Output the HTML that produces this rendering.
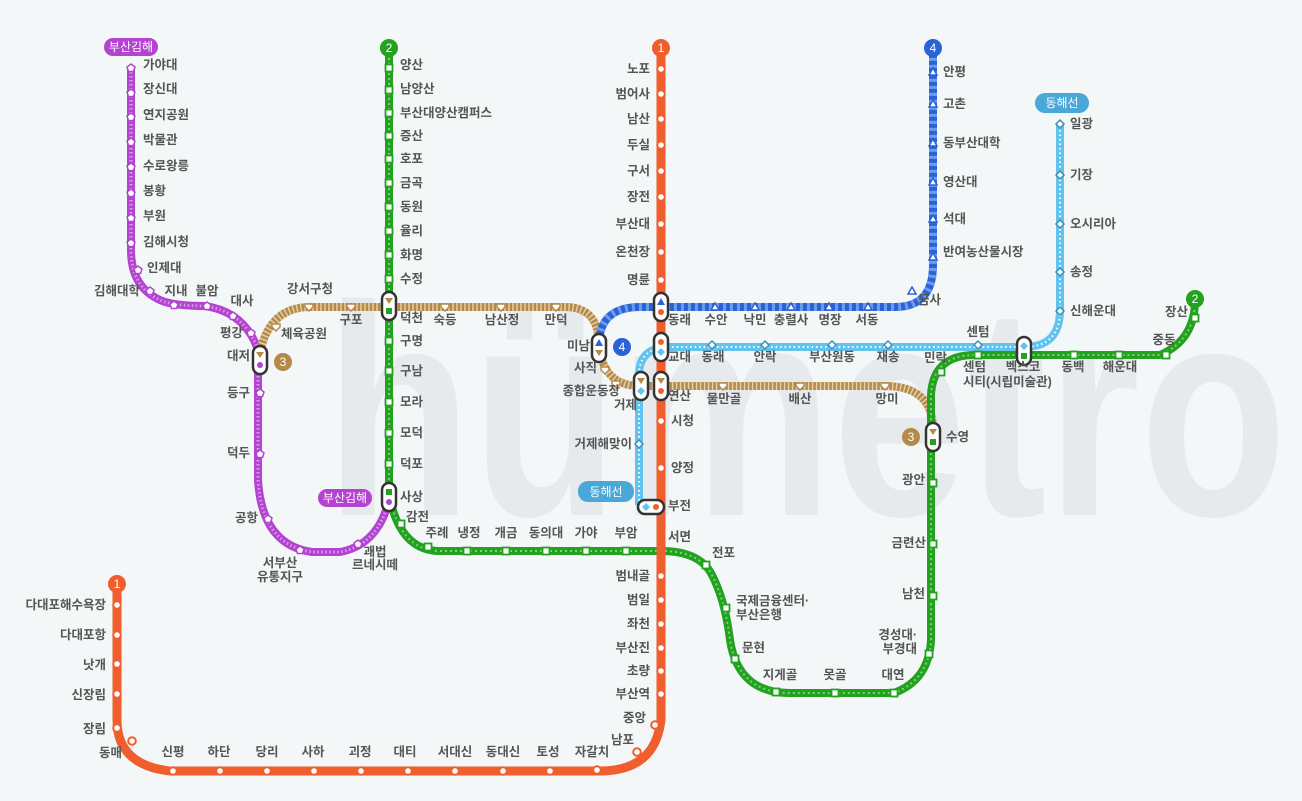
<!DOCTYPE html>
<html><head><meta charset="utf-8"><style>
html,body{margin:0;padding:0;background:#f4f7f8;}
svg{display:block}
text{font-family:"Liberation Sans","Noto Sans CJK KR",sans-serif;font-size:12.5px;fill:#555;font-weight:600}
.r{text-anchor:end}.m{text-anchor:middle}
.wm{font-family:"Liberation Sans",sans-serif;font-weight:700;font-size:300px;fill:#e6eaec}
.b{fill:#fff;font-size:12px;text-anchor:middle;font-weight:400}
</style></head><body>
<svg id="s" width="1302" height="801" viewBox="0 0 1302 801" xmlns="http://www.w3.org/2000/svg">
<text class="wm" x="325" y="515" textLength="962" lengthAdjust="spacingAndGlyphs">hümetro</text>
<g fill="none" stroke-linejoin="round">
<path d="M131,68 V250 Q131,290 165,302 Q180,306 205,306 Q245,312 258,350 V480 Q262,545 312,552 H340 Q378,545 389,500" stroke="#b343d0" stroke-width="8"/>
<path d="M131,68 V250 Q131,290 165,302 Q180,306 205,306 Q245,312 258,350 V480 Q262,545 312,552 H340 Q378,545 389,500" stroke="#d89be8" stroke-width="3" stroke-dasharray="1.5 2.5"/>
<path d="M260,352 Q270,307 310,307 H565 Q599,307 599,345 Q603,386 640,386 H885 Q933,386 933,430" stroke="#b5894a" stroke-width="8"/>
<path d="M260,352 Q270,307 310,307 H565 Q599,307 599,345 Q603,386 640,386 H885 Q933,386 933,430" stroke="#e4cfa8" stroke-width="8" stroke-dasharray="1.5 2.5"/>
<path d="M599,345 Q599,307 640,307 H895 Q933,307 933,265 V48" stroke="#2a63d8" stroke-width="8"/>
<path d="M599,345 Q599,307 640,307 H895 Q933,307 933,265 V48" stroke="#6f9ae8" stroke-width="8" stroke-dasharray="3 4"/>
<path d="M639,505 V375 Q639,347 670,347 H1024 Q1060,347 1060,310 V124" stroke="#62c4ee" stroke-width="8"/>
<path d="M639,505 V375 Q639,347 670,347 H1024 Q1060,347 1060,310 V124" stroke="#fff" stroke-width="2" stroke-dasharray="1.5 3"/>
<path d="M389,48 V495 Q400,551 440,551 H661 Q700,551 712,575 Q725,600 730,640 Q738,693 790,693 H894 Q929,680 931,640 V395 Q933,355 975,355 H1160 Q1195,340 1195,300" stroke="#22a21f" stroke-width="8"/>
<path d="M389,48 V495 Q400,551 440,551 H661 Q700,551 712,575 Q725,600 730,640 Q738,693 790,693 H894 Q929,680 931,640 V395 Q933,355 975,355 H1160 Q1195,340 1195,300" stroke="#7fd07c" stroke-width="2" stroke-dasharray="2 3"/>
<path d="M661,48 V720 Q655,771 600,771 H170 Q117,765 117,720 V584" stroke="#f15e2e" stroke-width="9"/>
</g>
<g id="mk"></g>
<circle cx="661" cy="48" r="9" fill="#f15e2e"/><text class="b" x="661" y="52">1</text>
<circle cx="117" cy="584" r="9" fill="#f15e2e"/><text class="b" x="117" y="588">1</text>
<circle cx="389" cy="48" r="9" fill="#22a21f"/><text class="b" x="389" y="52">2</text>
<circle cx="1195" cy="299" r="9" fill="#22a21f"/><text class="b" x="1195" y="303">2</text>
<circle cx="283" cy="362" r="9" fill="#b5894a"/><text class="b" x="283" y="366">3</text>
<circle cx="911" cy="437" r="9" fill="#b5894a"/><text class="b" x="911" y="441">3</text>
<circle cx="933" cy="48" r="9" fill="#2a63d8"/><text class="b" x="933" y="52">4</text>
<circle cx="622" cy="347" r="9" fill="#2a63d8"/><text class="b" x="622" y="351">4</text>
<rect x="104" y="38" width="54" height="18" rx="9" fill="#b343d0"/><text class="b" x="131" y="51">부산김해</text>
<rect x="318" y="489" width="54" height="18" rx="9" fill="#b343d0"/><text class="b" x="345" y="502">부산김해</text>
<rect x="1035" y="93" width="54" height="20" rx="10" fill="#4aa8d8"/><text class="b" x="1062" y="107">동해선</text>
<rect x="578" y="481" width="56" height="21" rx="10" fill="#4aa8d8"/><text class="b" x="606" y="496">동해선</text>
<text class="r" x="650" y="73">노포</text><text class="r" x="650" y="98">범어사</text><text class="r" x="650" y="123">남산</text><text class="r" x="650" y="149">두실</text><text class="r" x="650" y="175">구서</text><text class="r" x="650" y="201">장전</text><text class="r" x="650" y="228">부산대</text><text class="r" x="650" y="256">온천장</text><text class="r" x="650" y="284">명륜</text>
<text x="668" y="324">동래</text><text x="668" y="361">교대</text><text x="668" y="400">연산</text><text x="671" y="425">시청</text><text x="671" y="472">양정</text><text x="668" y="510">부전</text><text x="668" y="541">서면</text>
<text class="r" x="650" y="580">범내골</text><text class="r" x="650" y="604">범일</text><text class="r" x="650" y="628">좌천</text><text class="r" x="650" y="652">부산진</text><text class="r" x="650" y="675">초량</text><text class="r" x="650" y="698">부산역</text><text class="r" x="646" y="722">중앙</text><text class="r" x="634" y="744">남포</text>
<text class="m" x="592" y="756">자갈치</text><text class="m" x="548" y="756">토성</text><text class="m" x="503" y="756">동대신</text><text class="m" x="455" y="756">서대신</text><text class="m" x="405" y="756">대티</text><text class="m" x="360" y="756">괴정</text><text class="m" x="313" y="756">사하</text><text class="m" x="267" y="756">당리</text><text class="m" x="219" y="756">하단</text><text class="m" x="173" y="756">신평</text><text class="r" x="122" y="757">동매</text>
<text class="r" x="106" y="733">장림</text><text class="r" x="106" y="699">신장림</text><text class="r" x="106" y="669">낫개</text><text class="r" x="106" y="639">다대포항</text><text class="r" x="106" y="609">다대포해수욕장</text>
<text x="400" y="69">양산</text><text x="400" y="93">남양산</text><text x="400" y="117">부산대양산캠퍼스</text><text x="400" y="140">증산</text><text x="400" y="163">호포</text><text x="400" y="187">금곡</text><text x="400" y="211">동원</text><text x="400" y="235">율리</text><text x="400" y="259">화명</text><text x="400" y="283">수정</text><text x="400" y="322">덕천</text><text x="400" y="345">구명</text><text x="400" y="375">구남</text><text x="400" y="406">모라</text><text x="400" y="437">모덕</text><text x="400" y="468">덕포</text><text x="400" y="501">사상</text>
<text x="406" y="521">감전</text><text class="m" x="437" y="537">주례</text><text class="m" x="469" y="537">냉정</text><text class="m" x="506" y="537">개금</text><text class="m" x="546" y="537">동의대</text><text class="m" x="586" y="537">가야</text><text class="m" x="626" y="537">부암</text>
<text x="712" y="557">전포</text><text x="736" y="605">국제금융센터·</text><text x="736" y="619">부산은행</text><text x="742" y="652">문현</text><text class="m" x="780" y="679">지게골</text><text class="m" x="835" y="679">못골</text><text class="m" x="893" y="679">대연</text>
<text class="r" x="917" y="639">경성대·</text><text class="r" x="917" y="653">부경대</text><text class="r" x="925" y="598">남천</text><text class="r" x="926" y="547">금련산</text><text class="r" x="925" y="484">광안</text><text x="946" y="441">수영</text><text class="r" x="947" y="362">민락</text>
<text x="963" y="371">센텀</text><text x="963" y="386">시티(시립미술관)</text><text class="m" x="1023" y="371">벡스코</text><text class="m" x="1073" y="371">동백</text><text class="m" x="1120" y="371">해운대</text><text class="m" x="1164" y="344">중동</text><text class="r" x="1188" y="316">장산</text>
<text class="m" x="310" y="293">강서구청</text><text x="281" y="338">체육공원</text><text class="m" x="351" y="324">구포</text><text class="m" x="445" y="324">숙등</text><text class="m" x="502" y="324">남산정</text><text class="m" x="556" y="324">만덕</text>
<text class="r" x="590" y="350">미남</text><text class="r" x="597" y="372">사직</text><text class="r" x="620" y="395">종합운동장</text><text class="r" x="637" y="409">거제</text>
<text class="m" x="724" y="403">물만골</text><text class="m" x="800" y="403">배산</text><text class="m" x="887" y="403">망미</text>
<text class="m" x="716" y="324">수안</text><text class="m" x="755" y="324">낙민</text><text class="m" x="791" y="324">충렬사</text><text class="m" x="830" y="324">명장</text><text class="m" x="867" y="324">서동</text>
<text x="918" y="304">금사</text><text x="943" y="256">반여농산물시장</text><text x="943" y="223">석대</text><text x="943" y="186">영산대</text><text x="943" y="147">동부산대학</text><text x="943" y="108">고촌</text><text x="943" y="76">안평</text>
<text class="m" x="713" y="361">동래</text><text class="m" x="765" y="361">안락</text><text class="m" x="832" y="361">부산원동</text><text class="m" x="888" y="361">재송</text><text class="m" x="978" y="336">센텀</text>
<text x="1070" y="315">신해운대</text><text x="1070" y="276">송정</text><text x="1070" y="228">오시리아</text><text x="1070" y="179">기장</text><text x="1070" y="128">일광</text>
<text class="r" x="632" y="448">거제해맞이</text>
<text x="143" y="69">가야대</text><text x="143" y="93">장신대</text><text x="143" y="119">연지공원</text><text x="143" y="144">박물관</text><text x="143" y="170">수로왕릉</text><text x="143" y="195">봉황</text><text x="143" y="220">부원</text><text x="143" y="246">김해시청</text>
<text x="147" y="272">인제대</text><text class="r" x="140" y="295">김해대학</text><text class="m" x="176" y="295">지내</text><text class="m" x="207" y="295">불암</text><text class="m" x="242" y="305">대사</text><text class="r" x="243" y="337">평강</text><text class="r" x="250" y="360">대저</text><text class="r" x="250" y="397">등구</text><text class="r" x="250" y="457">덕두</text><text class="r" x="258" y="522">공항</text>
<text class="m" x="280" y="567">서부산</text><text class="m" x="280" y="581">유통지구</text><text class="m" x="375" y="556">괘법</text><text class="m" x="375" y="569">르네시떼</text>
</svg>
<script>
var g=document.getElementById('mk'),NS='http://www.w3.org/2000/svg';
function el(t,a){var e=document.createElementNS(NS,t);for(var k in a)e.setAttribute(k,a[k]);g.appendChild(e);return e;}
function circ(c,pts){pts.forEach(function(p){el('circle',{cx:p[0],cy:p[1],r:3.8,fill:'#fff',stroke:c,'stroke-width':2});});}
function sq(c,pts){pts.forEach(function(p){el('rect',{x:p[0]-3.5,y:p[1]-3.5,width:7,height:7,fill:'#fff',stroke:c,'stroke-width':1.8});});}
function poly(c,pts,sh){pts.forEach(function(p){var s=sh.map(function(q){return (p[0]+q[0])+','+(p[1]+q[1]);}).join(' ');el('polygon',{points:s,fill:'#fff',stroke:c,'stroke-width':1.5});});}
circ('#f15e2e',[[661,69],[661,94],[661,119],[661,145],[661,171],[661,197],[661,224],[661,252],[661,280],[661,421],[661,468],[661,576],[661,600],[661,624],[661,648],[661,671],[661,694],[655,725],[637,752],[597,770],[550,771],[503,771],[455,771],[408,771],[361,771],[314,771],[267,771],[220,771],[173,771],[132,741],[117,728],[117,694],[117,664],[117,635],[117,605]]);
sq('#22a21f',[[389,68],[389,90],[389,113],[389,136],[389,159],[389,183],[389,207],[389,231],[389,255],[389,279],[389,341],[389,371],[389,402],[389,433],[389,464],[401,524],[428,547],[467,551],[506,551],[546,551],[586,551],[626,551],[706,565],[726,608],[735,659],[776,692],[835,693],[894,693],[929,654],[933,596],[933,544],[933,483],[941,372],[978,355],[1074,355],[1119,355],[1166,355],[1195,318]]);
poly('#b5894a',[[276,327],[309,307],[351,307],[445,307],[501,307],[556,307],[605,370],[616,384],[723,386],[800,386],[885,386]],[[-4,-3],[4,-3],[4,0],[0,4],[-4,0]]);
poly('#2a63d8',[[715,307],[755,307],[791,307],[829,307],[868,307],[912,291],[933,257],[933,219],[933,182],[933,143],[933,104],[933,72]],[[0,-4],[4,3],[-4,3]]);
poly('#3b8fb8',[[639,444],[712,345],[765,345],[832,345],[888,345],[978,345],[1060,311],[1060,272],[1060,224],[1060,175],[1060,124]],[[0,-4],[4,0],[0,4],[-4,0]]);
poly('#b343d0',[[131,68],[131,93],[131,117],[131,142],[131,167],[131,193],[131,218],[131,243],[138,270],[150,291],[174,305],[207,306],[233,316],[251,333],[260,393],[260,454],[268,519],[300,550],[358,544]],[[0,-4],[4,-1],[2.5,3.5],[-2.5,3.5],[-4,-1]]);
function ic(x,y,a,b){el('rect',{x:x-7,y:y-14,width:14,height:28,rx:7,fill:'#fff',stroke:'#333','stroke-width':2.5});dot(x,y-5,a);dot(x,y+5,b);}
function dot(x,y,t){if(t=='o')el('circle',{cx:x,cy:y,r:3,fill:'#f15e2e'});else if(t=='g')el('rect',{x:x-3,y:y-3,width:6,height:6,fill:'#22a21f'});else if(t=='t')el('polygon',{points:(x-4)+','+(y-3)+' '+(x+4)+','+(y-3)+' '+x+','+(y+3),fill:'#b5894a'});else if(t=='u')el('polygon',{points:x+','+(y-4)+' '+(x+4)+','+(y+3)+' '+(x-4)+','+(y+3),fill:'#2a63d8'});else if(t=='d')el('polygon',{points:x+','+(y-4)+' '+(x+4)+','+y+' '+x+','+(y+4)+' '+(x-4)+','+y,fill:'#62c4ee'});else if(t=='p')el('circle',{cx:x,cy:y,r:3,fill:'#b343d0'});}
ic(661,307,'u','o');ic(661,347,'o','d');ic(661,386,'t','o');ic(641,386,'t','d');ic(599,348,'u','t');ic(389,306,'t','g');ic(389,497,'g','p');ic(260,360,'t','p');ic(933,437,'t','g');ic(1024,351,'d','g');
el('rect',{x:638,y:500,width:26,height:14,rx:7,fill:'#fff',stroke:'#333','stroke-width':2.5});dot(646,507,'d');dot(656,507,'o');
</script>
</body></html>
